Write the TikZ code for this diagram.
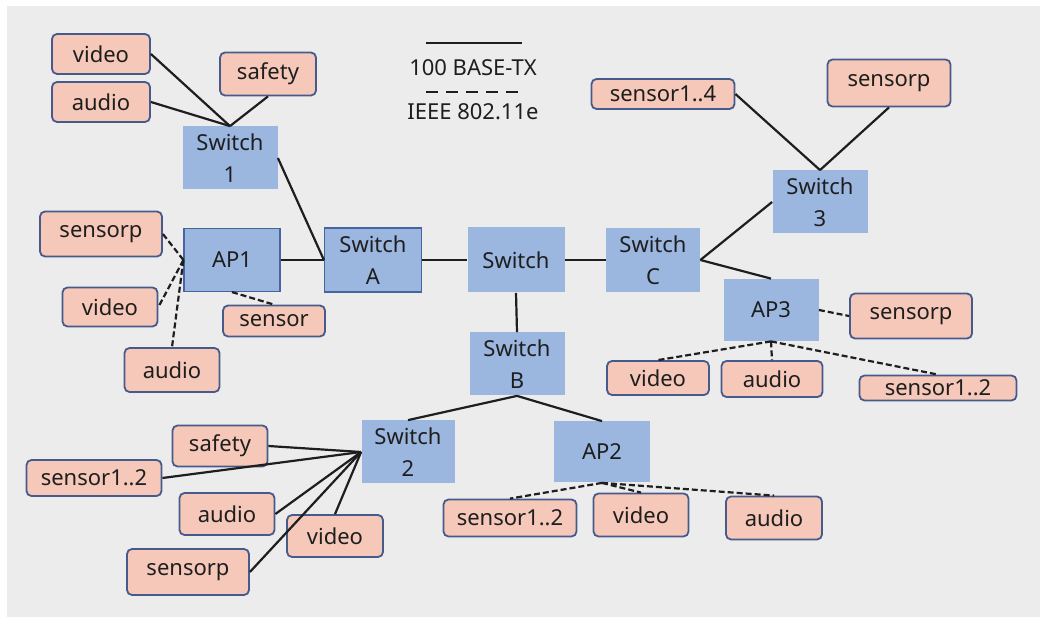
\documentclass[tikz,border=0pt]{standalone}
\usepackage{fontspec}
\setmainfont{Noto Sans}
\usepackage{xcolor}
\definecolor{bggray}{RGB}{236,236,236}
\definecolor{devblue}{RGB}{155,183,224}
\definecolor{devline}{RGB}{70,100,160}
\definecolor{termpink}{RGB}{245,200,185}
\definecolor{termline}{RGB}{70,90,140}
\definecolor{inkdark}{RGB}{30,30,30}
\tikzset{
  sz/.style 2 args={minimum width=#1*0.5pt, minimum height=#2*0.5pt},
  dev/.style={rectangle, fill=devblue, inner sep=0pt, align=center},
  devb/.style={dev, draw=devline, line width=0.6pt},
  term/.style={rectangle, rounded corners=2.5pt, fill=termpink, draw=termline, line width=0.9pt, inner sep=0pt},
  wired/.style={draw=inkdark, line width=1.1pt},
  wlan/.style={draw=inkdark, line width=1.1pt, dash pattern=on 3pt off 1.5pt},
  wlankey/.style={draw=inkdark, line width=1.1pt, dash pattern=on 6pt off 4pt}
}

\begin{document}
\begin{tikzpicture}[x=0.5pt, y=-0.5pt, font=\fontsize{11}{16}\selectfont, text=inkdark]
  \useasboundingbox (0,0) rectangle (1043,619);
  \fill[bggray] (7,6) rectangle (1040,617);

  % legend
  \draw[wired] (426,43) -- (522,43);
  \node (lgwired) at (473,68) {100 BASE-TX};
  \draw[wlankey] (426,92) -- (522,92);
  \node (lgwlan) at (473,112) {IEEE 802.11e};

  % switches and access points
  \node[dev, sz={95}{63}] (s1) at (230,158) {Switch\\1};
  \node[devb, sz={96}{63}] (ap1) at (232,260) {AP1};
  \node[devb, sz={97}{64}] (swa) at (373,260) {Switch\\A};
  \node[dev, sz={97}{65}] (sw) at (516,260) {Switch};
  \node[dev, sz={94}{64}] (swc) at (653,260) {Switch\\C};
  \node[dev, sz={95}{63}] (swb) at (517,364) {Switch\\B};
  \node[dev, sz={95}{63}] (sw3) at (820,202) {Switch\\3};
  \node[dev, sz={95}{62}] (ap3) at (771,310) {AP3};
  \node[dev, sz={93}{63}] (sw2) at (408,452) {Switch\\2};
  \node[dev, sz={96}{61}] (ap2) at (602,452) {AP2};

  % end devices
  \node[term, sz={98}{40}] (v1) at (101,54) {video};
  \node[term, sz={98}{40}] (a1) at (101,102) {audio};
  \node[term, sz={96}{43}] (sf1) at (268,74) {safety};
  \node[term, sz={122}{45}] (sp1) at (101,234) {sensorp};
  \node[term, sz={95}{39}] (v2) at (110,307) {video};
  \node[term, sz={95}{44}] (a2) at (172,370) {audio};
  \node[term, sz={102}{31}] (sn1) at (274,321) {sensor};
  \node[term, sz={143}{30}] (s14) at (663,94) {sensor1..4};
  \node[term, sz={123}{47}] (sp3) at (889,83) {sensorp};
  \node[term, sz={122}{45}] (sp4) at (911,316) {sensorp};
  \node[term, sz={102}{34}] (v4) at (658,378) {video};
  \node[term, sz={101}{36}] (a4) at (772,379) {audio};
  \node[term, sz={157}{25}] (s12c) at (938,388) {sensor1..2};
  \node[term, sz={133}{37}] (s12b) at (510,518) {sensor1..2};
  \node[term, sz={95}{43}] (v5) at (641,515) {video};
  \node[term, sz={96}{43}] (a5) at (774,518) {audio};
  \node[term, sz={95}{41}] (sf2) at (220,446) {safety};
  \node[term, sz={135}{36}] (s12a) at (94,478) {sensor1..2};
  \node[term, sz={95}{42}] (a3) at (227,514) {audio};
  \node[term, sz={96}{42}] (v3) at (335,536) {video};
  \node[term, sz={122}{46}] (sp2) at (188,572) {sensorp};

  % wired links
  \draw[wired] (v1.east) -- (s1.north);
  \draw[wired] (a1.east) -- (s1.north);
  \draw[wired] (sf1.south) -- (s1.north);
  \draw[wired] (s1.east) -- (swa.west);
  \draw[wired] (ap1.east) -- (swa.west);
  \draw[wired] (swa.east) -- (sw.west);
  \draw[wired] (sw.east) -- (swc.west);
  \draw[wired] (sw.south) -- (swb.north);
  \draw[wired] (swc.east) -- (sw3.west);
  \draw[wired] (swc.east) -- (ap3.north);
  \draw[wired] (s14.east) -- (sw3.north);
  \draw[wired] (sp3.south) -- (sw3.north);
  \draw[wired] (swb.south) -- (sw2.north);
  \draw[wired] (swb.south) -- (ap2.north);
  \draw[wired] (sw2.west) -- (sf2.east);
  \draw[wired] (sw2.west) -- (s12a.east);
  \draw[wired] (sw2.west) -- (a3.east);
  \draw[wired] (sw2.west) -- (sp2.east);
  \draw[wired] (sw2.west) -- (v3.north);

  % wireless links
  \draw[wlan] (ap1.west) -- (sp1.east);
  \draw[wlan] (ap1.west) -- (v2.east);
  \draw[wlan] (ap1.west) -- (a2.north);
  \draw[wlan] (ap1.south) -- (sn1.north);
  \draw[wlan] (ap3.east) -- (sp4.west);
  \draw[wlan] (ap3.south) -- (v4.north);
  \draw[wlan] (ap3.south) -- (a4.north);
  \draw[wlan] (ap3.south) -- (s12c.north);
  \draw[wlan] (ap2.south) -- (s12b.north);
  \draw[wlan] (ap2.south) -- (v5.north);
  \draw[wlan] (ap2.south) -- (a5.north);
\end{tikzpicture}
\end{document}
